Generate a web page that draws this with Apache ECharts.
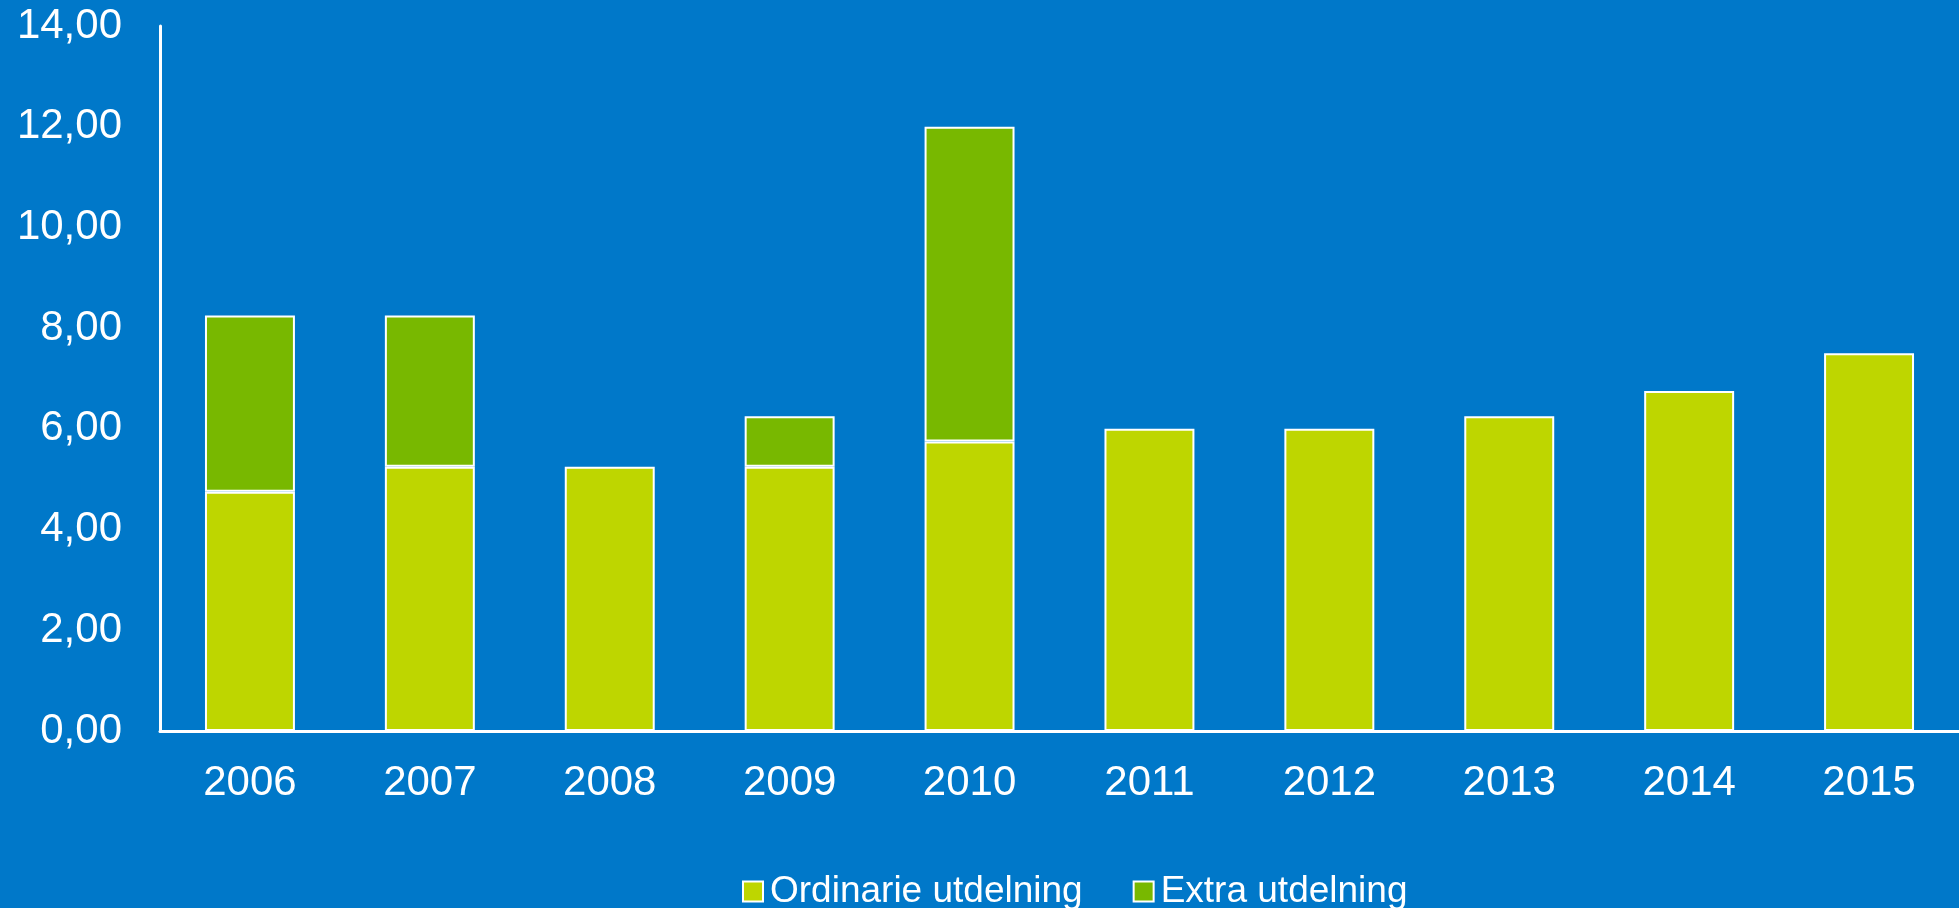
<!DOCTYPE html>
<html>
<head>
<meta charset="utf-8">
<script src="https://cdn.jsdelivr.net/npm/echarts@6/dist/echarts.min.js"></script>
<style>
html,body{margin:0;padding:0;background:#0078C9;}
#c{width:1959px;height:908px;}
</style>
</head>
<body>
<div id="c"></div>
<script>
const categories = ['2006','2007','2008','2009','2010','2011','2012','2013','2014','2015'];
const ordinarie = [4.75, 5.25, 5.25, 5.25, 5.75, 6.00, 6.00, 6.25, 6.75, 7.50];
const extra = [3.50, 3.00, null, 1.00, 6.25, null, null, null, null, null];
const seriesNames = ['Ordinarie utdelning', 'Extra utdelning'];

const chart = echarts.init(document.getElementById('c'));
const font = 'Liberation Sans, Arial, sans-serif';
chart.setOption({
  backgroundColor: '#0078C9',
  animation: false,
  grid: { left: 160, right: 0, top: 26, bottom: 177 },
  legend: {
    left: 737, top: 868,
    itemWidth: 20, itemHeight: 20, itemGap: 50,
    icon: 'rect',
    textStyle: { color: '#fff', fontSize: 37, fontFamily: font, padding: [0,0,0,2] },
    data: seriesNames
  },
  xAxis: {
    type: 'category',
    data: categories,
    axisLine: { lineStyle: { color: '#fff', width: 3 } },
    axisTick: { show: false },
    axisLabel: { color: '#fff', fontSize: 42, fontFamily: font, margin: 31 }
  },
  yAxis: {
    type: 'value',
    min: 0, max: 14, interval: 2,
    axisLine: { show: true, lineStyle: { color: '#fff', width: 3 } },
    axisTick: { show: false },
    splitLine: { show: false },
    axisLabel: {
      color: '#fff', fontSize: 42, fontFamily: font, margin: 38,
      formatter: v => v.toFixed(2).replace('.', ',')
    }
  },
  series: [
    {
      name: seriesNames[0], type: 'bar', stack: 'a', data: ordinarie, barWidth: '50%',
      itemStyle: { color: '#BED600', borderColor: '#fff', borderWidth: 2 }
    },
    {
      name: seriesNames[1], type: 'bar', stack: 'a', data: extra, barWidth: '50%',
      itemStyle: { color: '#78B800', borderColor: '#fff', borderWidth: 2 }
    }
  ]
});
</script>
</body>
</html>
